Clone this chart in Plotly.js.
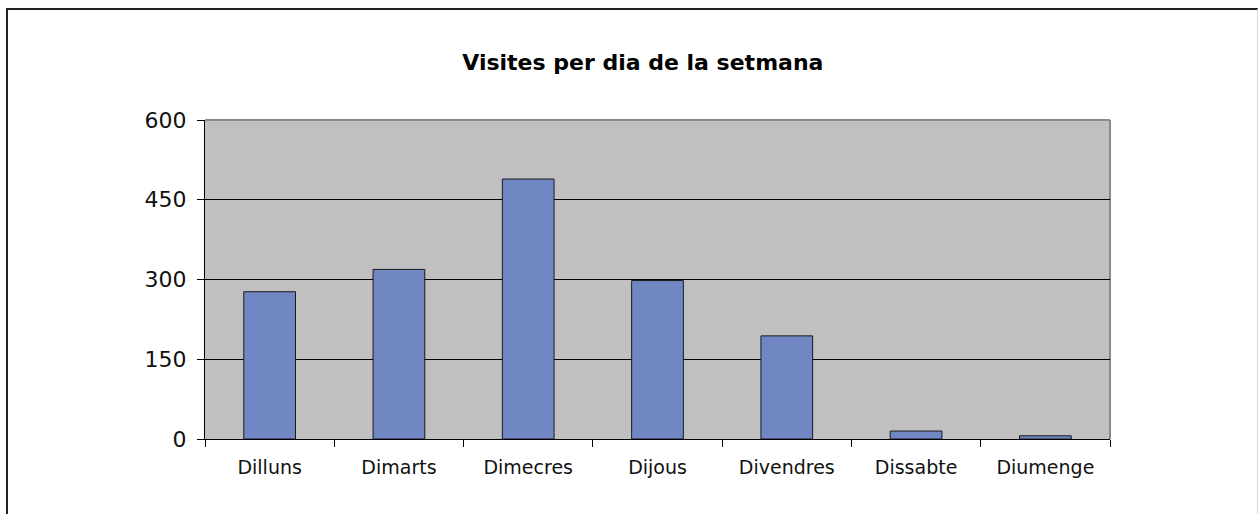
<!DOCTYPE html>
<html>
<head>
<meta charset="utf-8">
<script src="https://cdn.plot.ly/plotly-3.0.1.min.js"></script>
<style>
  html, body { margin: 0; padding: 0; background: #ffffff; overflow: hidden; }
  #wrap { position: relative; width: 1258px; height: 514px; }
  #chart { position: absolute; left: 0; top: 0; width: 1258px; height: 514px; }
  #frame { position: absolute; left: 6px; top: 8px; width: 1249px; height: 520px;
           border-left: 2px solid #222; border-top: 2px solid #222; border-right: 1px solid #d8d8d8;
           pointer-events: none; }
</style>
</head>
<body>
<div id="wrap">
  <div id="chart"></div>
  <div id="frame"></div>
</div>
<script>
const categories = ["Dilluns", "Dimarts", "Dimecres", "Dijous", "Divendres", "Dissabte", "Diumenge"];
const visites = [277, 319, 489, 298, 194, 15, 6];
const yTicks = [0, 150, 300, 450, 600];
const chartTitle = "Visites per dia de la setmana";

const trace = {
  type: "bar",
  x: categories,
  y: visites,
  marker: { color: "#7087c3", line: { color: "#1a1a1a", width: 1 } },
  hoverinfo: "x+y"
};

const layout = {
  width: 1258,
  height: 514,
  margin: { l: 205, r: 148, t: 120, b: 75 },
  paper_bgcolor: "rgba(0,0,0,0)",
  plot_bgcolor: "#c0c0c0",
  bargap: 0.6,
  showlegend: false,
  title: {
    text: "<b>" + chartTitle + "</b>",
    font: { family: "DejaVu Sans", size: 22, color: "#000" },
    x: 0.511, xref: "container", xanchor: "center",
    y: 1 - 62 / 514, yref: "container", yanchor: "middle"
  },
  font: { family: "DejaVu Sans", color: "#000" },
  xaxis: {
    type: "category",
    showline: true, linecolor: "#000", linewidth: 1,
    ticks: "outside", tickson: "boundaries", ticklen: 7, tickcolor: "#000", tickwidth: 1,
    tickfont: { family: "DejaVu Sans", size: 19, color: "#111" },
    ticklabelstandoff: 11,
    showgrid: false, zeroline: false
  },
  yaxis: {
    range: [0, 600],
    tickmode: "array", tickvals: yTicks, ticktext: yTicks.map(String),
    showline: true, linecolor: "#000", linewidth: 1,
    ticks: "outside", ticklen: 7, tickcolor: "#000", tickwidth: 1,
    tickfont: { family: "DejaVu Sans", size: 22, color: "#111" },
    ticklabelstandoff: 6,
    showgrid: true, gridcolor: "#000", gridwidth: 1,
    zeroline: false
  },
  shapes: [
    { type: "line", xref: "paper", yref: "paper", x0: 0, x1: 1, y0: 1, y1: 1,
      line: { color: "#8a8a8a", width: 2 }, layer: "below" },
    { type: "line", xref: "paper", yref: "paper", x0: 1, x1: 1, y0: 0, y1: 1,
      line: { color: "#8a8a8a", width: 2 }, layer: "below" }
  ]
};

Plotly.newPlot("chart", [trace], layout, { displayModeBar: false, staticPlot: true });
</script>
</body>
</html>
